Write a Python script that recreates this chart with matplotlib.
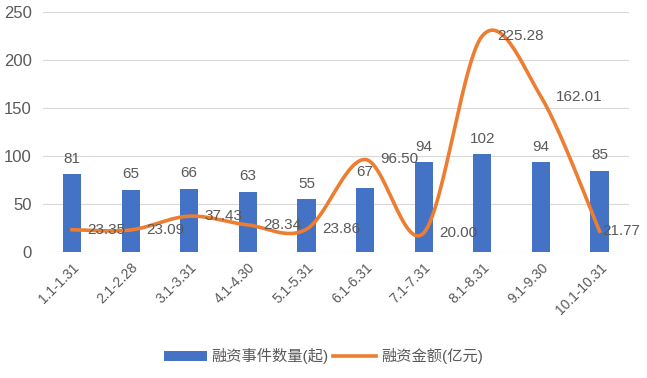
import numpy as np
import matplotlib as mpl
mpl.use('Agg')
import matplotlib.pyplot as plt

plt.rcParams['font.family'] = ['Liberation Sans', 'Noto Sans CJK SC', 'DejaVu Sans']

months = ['1.1-1.31', '2.1-2.28', '3.1-3.31', '4.1-4.30', '5.1-5.31',
          '6.1-6.31', '7.1-7.31', '8.1-8.31', '9.1-9.30', '10.1-10.31']
counts = [81, 65, 66, 63, 55, 67, 94, 102, 94, 85]
amounts = [23.35, 23.09, 37.43, 28.34, 23.86, 96.50, 20.00, 225.28, 162.01, 21.77]

bar_color = '#4472C4'
line_color = '#ED7D31'
text_color = '#595959'


def smooth(xs, ys, n=30):
    # catmull-rom, roughly what excel does for "smoothed line"
    xs = np.asarray(xs, float)
    ys = np.asarray(ys, float)
    px = np.concatenate([[xs[0]], xs, [xs[-1]]])
    py = np.concatenate([[ys[0]], ys, [ys[-1]]])
    outx, outy = [], []
    t = np.linspace(0, 1, n)
    for i in range(1, len(px) - 2):
        for arr, out in ((px, outx), (py, outy)):
            p0, p1, p2, p3 = arr[i - 1], arr[i], arr[i + 1], arr[i + 2]
            out.extend(0.5 * ((2 * p1) + (-p0 + p2) * t
                              + (2 * p0 - 5 * p1 + 4 * p2 - p3) * t ** 2
                              + (-p0 + 3 * p1 - 3 * p2 + p3) * t ** 3))
    return outx, outy


fig = plt.figure(figsize=(6.47, 3.78), dpi=100)
ax = fig.add_axes([0.066, 0.333, 0.906, 0.635])

x = np.arange(len(months))
bars = ax.bar(x, counts, width=0.31, color=bar_color, label='融资事件数量(起)', zorder=2)
sx, sy = smooth(x, amounts)
line, = ax.plot(sx, sy, color=line_color, lw=2.6, label='融资金额(亿元)', zorder=3)

for xi, c in zip(x, counts):
    ax.annotate(str(c), (xi, c), xytext=(0, 6), textcoords='offset points',
                ha='center', va='bottom', fontsize=11, color=text_color, zorder=4)
for i, (xi, a) in enumerate(zip(x, amounts)):
    dx = 2 if i == len(amounts) - 1 else 11
    ax.annotate('%.2f' % a, (xi, a), xytext=(dx, 0), textcoords='offset points',
                ha='left', va='center', fontsize=11, color=text_color, zorder=4)

ax.set_xlim(-0.5, len(months) - 0.5)
ax.set_ylim(0, 250)
ax.set_yticks(range(0, 251, 50))
ax.grid(axis='y', color='#D9D9D9', lw=0.8, zorder=0)
ax.set_axisbelow(True)
for s in ax.spines.values():
    s.set_visible(False)
ax.tick_params(length=0, colors=text_color)
ax.tick_params(axis='y', labelsize=12, pad=8)
ax.set_xticks(x)
ax.set_xticklabels(months, rotation=45, ha='right', rotation_mode='anchor',
                   fontsize=10)
ax.tick_params(axis='x', pad=6)

fig.legend([bars, line], ['融资事件数量(起)', '融资金额(亿元)'],
           loc='lower center', bbox_to_anchor=(0.5, 0.0), ncol=2, frameon=False,
           fontsize=11, labelcolor=text_color, handlelength=2.8,
           columnspacing=0.3, handletextpad=0.3)

fig.savefig('out.png', dpi=100)
